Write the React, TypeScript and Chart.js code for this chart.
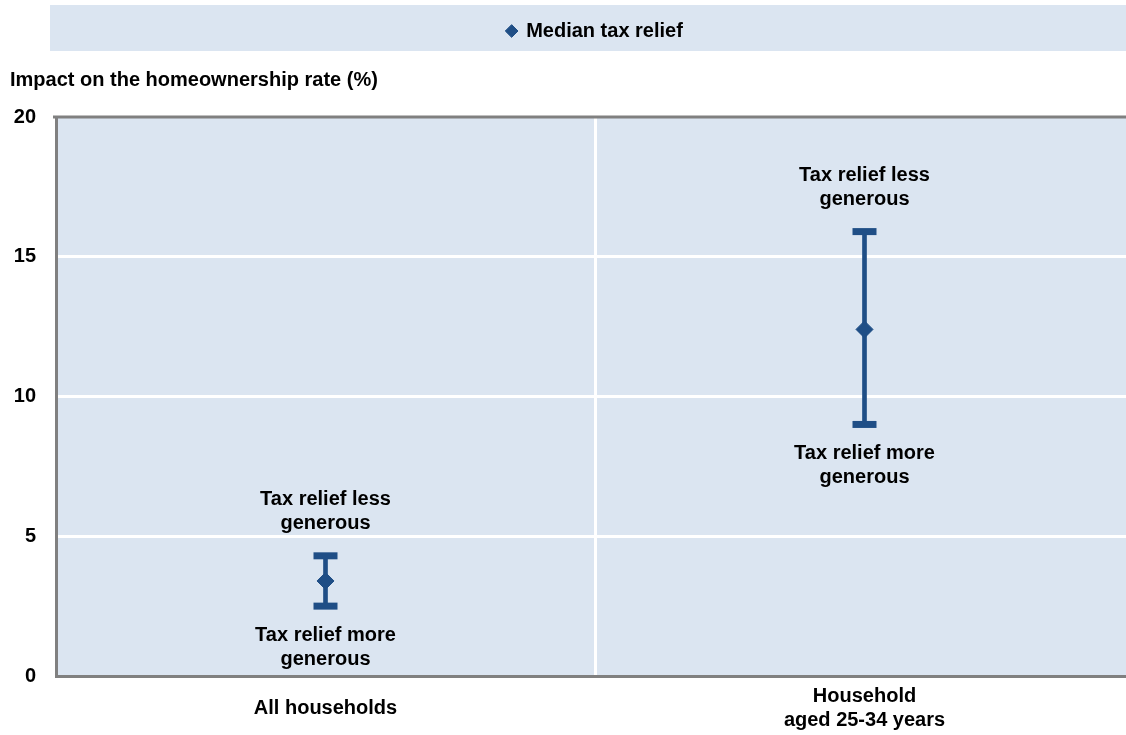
import React, { useEffect, useRef } from "react";
import { Chart, registerables } from "chart.js";

Chart.register(...registerables);

// ---- data ----
const CATEGORIES: (string | string[])[] = ["All households", ["Household", "aged 25-34 years"]];
const MEDIAN = [3.4, 12.4];
const HIGH = [4.3, 15.9];
const LOW = [2.5, 9.0];
const SERIES_LABEL = "Median tax relief";
const Y_TITLE = "Impact on the homeownership rate (%)";
const LABEL_ABOVE = ["Tax relief less", "generous"];
const LABEL_BELOW = ["Tax relief more", "generous"];
const Y_MIN = 0;
const Y_MAX = 20;
const Y_STEP = 5;

// ---- styles ----
const BLUE = "#1f4e86";
const PANEL = "#dbe5f1";
const BORDER = "#808080";
const FONT_FAMILY = "'Liberation Sans', Arial, Helvetica, sans-serif";
const FONT_SIZE = 20;
const FONT_WEIGHT = "bold";
const W = 1140;
const H = 735;

const backgroundPlugin = {
  id: "panelBackgrounds",
  beforeDraw(chart: any) {
    const { ctx, chartArea, legend } = chart;
    ctx.save();
    ctx.fillStyle = PANEL;
    if (legend) {
      ctx.fillRect(chartArea.left - 6, legend.top, chart.width + 40, legend.bottom - legend.top);
    }
    ctx.fillRect(chartArea.left, chartArea.top, chartArea.right - chartArea.left, chartArea.bottom - chartArea.top);
    ctx.restore();
  },
  beforeDatasetsDraw(chart: any) {
    const { ctx, chartArea } = chart;
    ctx.save();
    ctx.strokeStyle = BORDER;
    ctx.lineWidth = 3;
    ctx.beginPath();
    ctx.moveTo(chartArea.left - 3, chartArea.top);
    ctx.lineTo(chartArea.right, chartArea.top);
    ctx.stroke();
    ctx.restore();
  },
};

const annotationPlugin = {
  id: "rangeAnnotations",
  afterDatasetsDraw(chart: any) {
    const { ctx } = chart;
    const xs = chart.scales.x;
    const ys = chart.scales.y;
    const lh = FONT_SIZE * 1.2;
    ctx.save();
    ctx.font = `${FONT_WEIGHT} ${FONT_SIZE}px ${FONT_FAMILY}`;
    ctx.fillStyle = "#000";
    ctx.textAlign = "center";
    ctx.textBaseline = "middle";
    CATEGORIES.forEach((_, i) => {
      const x = xs.getPixelForValue(i);
      const yHigh = ys.getPixelForValue(HIGH[i]);
      const yLow = ys.getPixelForValue(LOW[i]);
      const n = LABEL_ABOVE.length;
      LABEL_ABOVE.forEach((line, k) => {
        ctx.fillText(line, x, yHigh - 32 - (n - 1 - k) * lh);
      });
      LABEL_BELOW.forEach((line, k) => {
        ctx.fillText(line, x, yLow + 29 + k * lh);
      });
    });
    ctx.restore();
  },
};

export default function App() {
  const canvasRef = useRef<HTMLCanvasElement | null>(null);

  useEffect(() => {
    const canvas = canvasRef.current;
    if (!canvas) return;
    const font = { family: FONT_FAMILY, size: FONT_SIZE, weight: FONT_WEIGHT as any };

    const chart = new Chart(canvas, {
      type: "bar",
      data: {
        labels: CATEGORIES as any,
        datasets: [
          {
            type: "bar",
            label: "range",
            data: LOW.map((l, i) => [l, HIGH[i]]) as any,
            backgroundColor: BLUE,
            borderWidth: 0,
            barThickness: 4,
            order: 3,
          },
          {
            type: "line",
            label: "high",
            data: HIGH,
            showLine: false,
            pointStyle: "line",
            pointRadius: 12,
            pointHoverRadius: 12,
            pointBorderWidth: 7,
            pointBorderColor: BLUE,
            borderColor: BLUE,
            order: 2,
          },
          {
            type: "line",
            label: "low",
            data: LOW,
            showLine: false,
            pointStyle: "line",
            pointRadius: 12,
            pointHoverRadius: 12,
            pointBorderWidth: 7,
            pointBorderColor: BLUE,
            borderColor: BLUE,
            order: 2,
          },
          {
            type: "line",
            label: SERIES_LABEL,
            data: MEDIAN,
            showLine: false,
            pointStyle: "rectRot",
            pointRadius: 8.5,
            pointHoverRadius: 8.5,
            pointBackgroundColor: BLUE,
            pointBorderColor: BLUE,
            pointBorderWidth: 1,
            backgroundColor: BLUE,
            borderColor: BLUE,
            borderWidth: 1,
            order: 0,
          },
        ] as any,
      },
      options: {
        responsive: false,
        animation: false,
        events: [],
        layout: { autoPadding: false, padding: { top: 5, left: 10, right: 6, bottom: 0 } },
        plugins: {
          tooltip: { enabled: false },
          legend: {
            display: true,
            position: "top",
            fullSize: false,
            align: "center",
            labels: {
              usePointStyle: true,
              boxWidth: 9,
              boxHeight: 9,
              padding: 16,
              color: "#000",
              font,
              filter: (item: any) => item.text === SERIES_LABEL,
            },
          } as any,
          title: {
            display: true,
            text: Y_TITLE,
            align: "start",
            position: "top",
            weight: 500,
            color: "#000",
            font,
            padding: { top: 17, bottom: 25 },
          } as any,
        },
        scales: {
          x: {
            type: "category",
            offset: true,
            grid: {
              offset: true,
              drawTicks: false,
              lineWidth: 3,
              color: (c: any) => (c.index === 1 ? "#ffffff" : "rgba(0,0,0,0)"),
            },
            border: { display: true, color: BORDER, width: 3 },
            ticks: {
              color: "#000",
              font,
              padding: 20,
              maxRotation: 0,
              autoSkip: false,
              crossAlign: "center",
            },
            afterFit: (s: any) => {
              s.height = 59;
              s.paddingLeft = 0;
              s.paddingRight = 0;
            },
          } as any,
          y: {
            min: Y_MIN,
            max: Y_MAX,
            grid: {
              drawTicks: false,
              lineWidth: 3,
              color: (c: any) =>
                c.tick && (c.tick.value === Y_MIN || c.tick.value === Y_MAX) ? "rgba(0,0,0,0)" : "#ffffff",
            },
            border: { display: true, color: BORDER, width: 3 },
            ticks: { stepSize: Y_STEP, color: "#000", font, padding: 20 },
            afterFit: (s: any) => {
              s.width = 46;
            },
          } as any,
        },
      },
      plugins: [backgroundPlugin, annotationPlugin],
    });

    return () => chart.destroy();
  }, []);

  return (
    <div
      style={{
        position: "fixed",
        left: 0,
        top: 0,
        width: 1126,
        height: 735,
        overflow: "hidden",
        background: "#fff",
      }}
    >
      <div style={{ width: W, height: H }}>
        <canvas ref={canvasRef} width={W} height={H} style={{ display: "block" }} />
      </div>
    </div>
  );
}
